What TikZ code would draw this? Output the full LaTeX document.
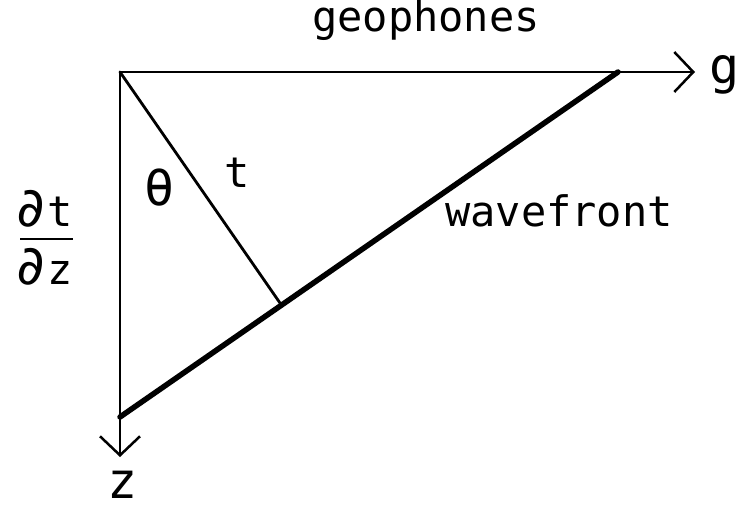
\documentclass[tikz,border=0pt]{standalone}
\usepackage{fontspec}
\usetikzlibrary{arrows.meta,calc}
\newfontfamily\lblfont{DejaVu Sans Mono}
\newcommand{\pd}{\scalebox{1.3}{∂}}
\begin{document}
\begin{tikzpicture}[x=1pt,y=-1pt,
  lbl/.style={font=\lblfont\fontsize{42}{42}\selectfont, inner sep=0pt},
  biglbl/.style={font=\lblfont\fontsize{50}{50}\selectfont, inner sep=0pt},
  axisline/.style={line width=2.8pt, line cap=round, -{Straight Barb[length=19pt,width=40pt,line width=2.5pt]}},
  thinline/.style={line width=2.8pt, line cap=round},
  frontline/.style={line width=5.5pt, line cap=round}]
\useasboundingbox (0,0) rectangle (741,510);
\coordinate (O) at (120,72);
\coordinate (gtip) at (695,72);
\coordinate (ztip) at (120,457);
\coordinate (W1) at (120,417);
\coordinate (W2) at (618,72);
\coordinate (F) at ($(W1)!(O)!(W2)$);
% axes
\draw[axisline] (O) -- (gtip);
\draw[axisline] (O) -- (ztip);
% wavefront and ray
\draw[frontline] (W1) -- (W2);
\draw[thinline] (O) -- (F);
% labels
\node[lbl, anchor=base] (geo) at (426,32) {geophones};
\node[lbl, anchor=base] (wf) at (559,227) {wavefront};
\node[biglbl, anchor=base] (g) at (725,84) {g};
\node[biglbl, anchor=base] (z) at (123,498) {z};
\node[biglbl, anchor=center] (th) at (160,188) {θ};
\node[lbl, anchor=base] (t) at (237,188) {t};
\node[lbl, anchor=base] (dt) at (44,227) {\pd t};
\node[lbl, anchor=base] (dz) at (44,285) {\pd z};
\coordinate (barL) at (20,239);
\coordinate (barR) at (73,239);
\draw[line width=2pt] (barL) -- (barR);
\end{tikzpicture}
\end{document}
